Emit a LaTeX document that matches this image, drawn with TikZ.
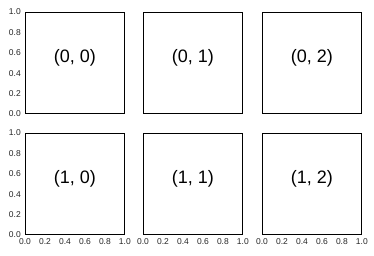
\documentclass[tikz,border=0pt]{standalone}
\usepackage{fontspec}
\setmainfont{Liberation Sans}
\usetikzlibrary{positioning,calc}
\tikzset{
  panel/.style={draw,line width=0.9pt,minimum width=99pt,minimum height=101pt,inner sep=0pt,anchor=north west},
  ticklab/.style={font=\fontsize{8.5}{9}\selectfont,text=black!85,inner sep=0pt},
  idx/.style={font=\fontsize{18}{20}\selectfont,inner sep=0pt},
}
\begin{document}
\begin{tikzpicture}[x=1pt,y=-1pt]
  \useasboundingbox (0,0) rectangle (374,255);
  % grid of panels with index labels
  \foreach \r/\y in {0/12,1/133}{
    \foreach \c/\x in {0/25,1/143,2/262}{
      \node[panel] (p\r\c) at (\x,\y) {};
      \node[idx] (l\r\c) at ([yshift=5pt]p\r\c.center) {(\r, \c)};
    }
  }
  % y ticks on the left column
  \foreach \r in {0,1}{
    \foreach \t [count=\i from 0] in {0.0,0.2,0.4,0.6,0.8,1.0}{
      \node[ticklab,anchor=east] (y\r\i) at ($(p\r0.south west)!\i/5!(p\r0.north west)+(-4,0)$) {\t};
    }
  }
  % x ticks under the bottom row
  \foreach \c in {0,1,2}{
    \foreach \t [count=\i from 0] in {0.0,0.2,0.4,0.6,0.8,1.0}{
      \node[ticklab] (x\c\i) at ($(p1\c.south west)!\i/5!(p1\c.south east)+(0,7)$) {\t};
    }
  }
\end{tikzpicture}
\end{document}
